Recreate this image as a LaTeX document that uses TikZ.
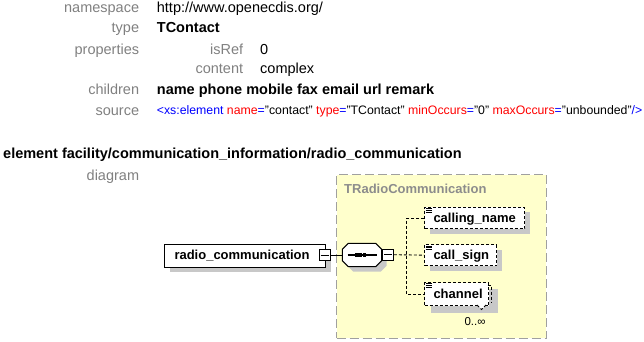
\documentclass[tikz,border=0pt]{standalone}
\usepackage{fontspec}
\setmainfont{Liberation Sans}
\usetikzlibrary{calc,shadows}
\definecolor{lblgray}{RGB}{128,128,128}
\definecolor{ttlgray}{RGB}{140,140,140}
\definecolor{boxgray}{RGB}{160,160,160}
\definecolor{ylw}{RGB}{255,255,204}
\definecolor{shd}{RGB}{200,200,200}
\definecolor{xblue}{RGB}{0,0,255}
\definecolor{xred}{RGB}{255,0,0}
\begin{document}
\begin{tikzpicture}[x=1pt,y=-1pt,
  lab/.style={font=\fontsize{14.5}{17}\selectfont, text=lblgray, inner sep=0pt, anchor=base east},
  val/.style={font=\fontsize{14.5}{17}\selectfont, inner sep=0pt, anchor=base west},
  bval/.style={val, font=\fontsize{14.5}{17}\selectfont\bfseries},
  src/.style={font=\fontsize{12.3}{14}\selectfont, inner sep=0pt, anchor=base west},
  elem/.style={draw, fill=white, line width=1pt, font=\fontsize{13}{15}\selectfont\bfseries,
    inner ysep=0pt, text height=10pt, text depth=2pt, align=left, anchor=north west},
  shad/.style={general shadow={fill=shd, shadow xshift=#1, shadow yshift=-#1}},
  optel/.style={elem, dash pattern=on 3pt off 2pt},
  mbox/.style={draw, fill=white, line width=0.8pt, minimum width=11pt, minimum height=11pt, inner sep=0pt,
    path picture={\draw[line width=0.8pt] ([xshift=1.5pt]path picture bounding box.west) -- ([xshift=-1.5pt]path picture bounding box.east);}},
  conn/.style={line width=0.9pt, dash pattern=on 3pt off 2pt},
  icon/.style={line width=0.7pt}
]
\useasboundingbox (0,0) rectangle (644,342);

% ---- property table ----
\node[lab] (l1) at (139.3,12.7) {namespace};
\node[val] (v1) at (156.7,12.7) {http://www.openecdis.org/};
\node[lab] (l2) at (139.3,32.7) {type};
\node[bval] (v2) at (156.7,32.7) {TContact};
\node[lab] (l3) at (139.3,54.3) {properties};
\node[lab] (l4) at (243.3,54.3) {isRef};
\node[val] (v4) at (260,54.3) {0};
\node[lab] (l5) at (243.3,74) {content};
\node[val] (v5) at (260,74) {complex};
\node[lab] (l6) at (139.3,94.3) {children};
\node[bval] (v6) at (156.7,94.3) {name phone mobile fax email url remark};
\node[lab] (l7) at (139.3,115) {source};
\node[src] (v7) at (156.7,114) {\textcolor{xblue}{<xs:element} \textcolor{xred}{name}\textcolor{xblue}{=}"contact" \textcolor{xred}{type}\textcolor{xblue}{=}"TContact" \textcolor{xred}{minOccurs}\textcolor{xblue}{=}"0" \textcolor{xred}{maxOccurs}\textcolor{xblue}{=}"unbounded"\textcolor{xblue}{/>}};

% ---- element header ----
\node[bval] (hd) at (3,158.3) {element facility/communication\_information/radio\_communication};
\node[lab] (l8) at (139.3,180) {diagram};

% ---- complex type box ----
\node[fill=ylw, draw=boxgray, line width=1pt, dash pattern=on 9pt off 4pt, anchor=north west,
  minimum width=209.7pt, minimum height=163.7pt, inner sep=0pt] (tbox) at (336,174) {};
\node[font=\fontsize{13}{15}\selectfont\bfseries, text=ttlgray, inner sep=0pt, anchor=base west] (ttl) at (344,193.3) {TRadioCommunication};

% ---- root element ----
\node[elem, shad=5pt, minimum width=161pt, minimum height=22.7pt, text width=141pt, inner xsep=10pt] (rc) at (164,244) {radio\_communication};
\node[mbox] (rcm) at (324.5,255) {};

% ---- sequence compositor ----
\node[inner sep=0pt, minimum width=39.4pt, minimum height=23.4pt] (seq) at (362,255) {};
\fill[shd, shift={(5,5)}] (348.3,243.3) -- (375.7,243.3) -- (381.7,249.3) -- (381.7,260.7) -- (375.7,266.7) -- (348.3,266.7) -- (342.3,260.7) -- (342.3,249.3) -- cycle;
\draw[fill=white, line width=1pt] (348.3,243.3) -- (375.7,243.3) -- (381.7,249.3) -- (381.7,260.7) -- (375.7,266.7) -- (348.3,266.7) -- (342.3,260.7) -- (342.3,249.3) -- cycle;
\draw[line width=1.1pt] (347.7,255) -- (376.7,255);
\fill (355.4,253.4) rectangle +(3.2,3.2);
\fill (359.2,253.4) rectangle +(3.2,3.2);
\fill (363,253.4) rectangle +(3.2,3.2);
\node[mbox] (sqm) at (388,254.7) {};

% ---- child elements ----
\node[optel, shad=5pt, minimum width=100pt, minimum height=21.6pt, text width=82pt, inner xsep=9pt] (cn) at (424,206.7) {calling\_name};
\node[optel, shad=5pt, minimum width=72pt, minimum height=20.7pt, text width=54pt, inner xsep=9pt] (cs) at (424,244.3) {call\_sign};
\fill[shd] (431,289) rectangle (498,313);
\node[optel, minimum width=64pt, minimum height=23pt, text width=46pt, inner xsep=9pt] (ch) at (424,282) {channel};
\draw[conn] (487.5,285.5) -- (491.5,285.5) -- (491.5,303);
\draw[conn, fill=white] (477,305) -- (481.5,309.5) -- (486,305);
\node[font=\fontsize{11.5}{13}\selectfont, inner sep=0pt, anchor=base east] (occ) at (485.7,325.3) {0..∞};

% ---- icons ----
\foreach \n in {cn,cs,ch}{
  \foreach \d in {1.6,3.4,5.2}{
    \draw[icon] ([shift={(1.5,\d)}]\n.north west) -- ++(6,0);
  }
}

% ---- connectors ----
\coordinate (bus) at (406.7,255);
\draw[line width=1pt] (rcm.east) -- (seq.west);
\draw[conn] (sqm.east) -- (cs.west);
\draw[conn] (cn.west) -- (cn.west -| bus) -- (ch.west -| bus) -- (ch.west);
\end{tikzpicture}
\end{document}
